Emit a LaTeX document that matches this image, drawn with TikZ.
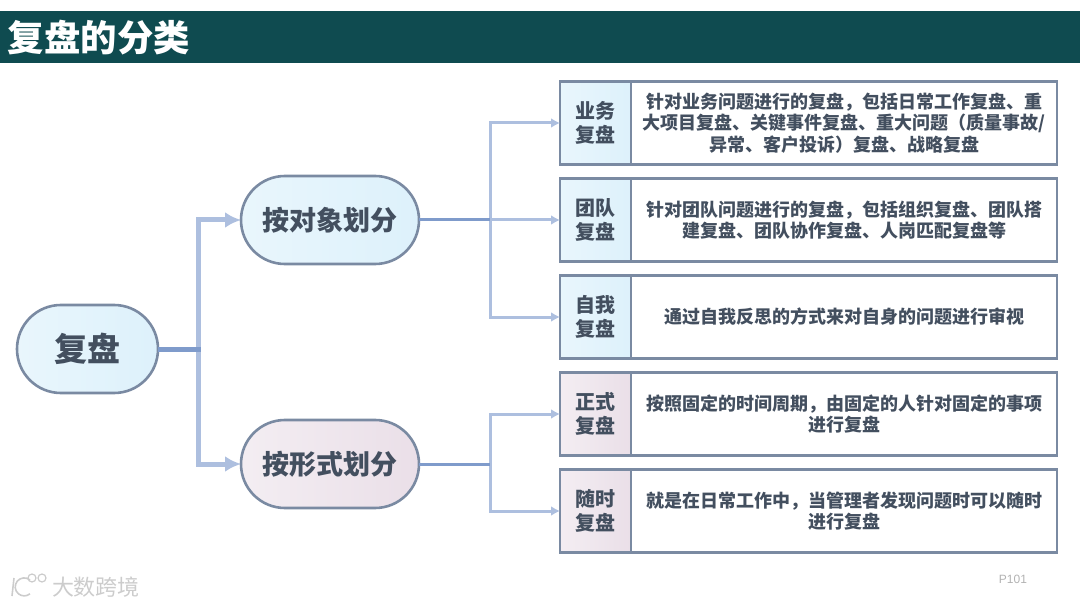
\documentclass[tikz,border=0pt]{standalone}
\usepackage{fontspec}
\setmainfont{Noto Sans CJK SC}
\newfontfamily\latinfont{Liberation Sans}
\usetikzlibrary{arrows.meta,positioning}

\definecolor{bandteal}{HTML}{0F4B50}
\definecolor{edgegrey}{HTML}{7A8AA2}
\definecolor{inkgrey}{HTML}{434F5F}
\definecolor{iceblue}{HTML}{DDF1FB}
\definecolor{palerose}{HTML}{EADFE8}
\definecolor{trunkblue}{HTML}{7F9BCB}
\definecolor{branchblue}{HTML}{ADBFDF}

\begin{document}
\begin{tikzpicture}[
    x=1pt, y=-1pt,
    every node/.style={text=inkgrey, outer sep=0pt},
    pill/.style={
      draw=edgegrey, line width=2.6pt,
      rounded corners=43.9pt, align=center,
      minimum height=88pt,
      font=\fontsize{33}{38}\selectfont\bfseries
    },
    bluefill/.style={left color=iceblue!65, right color=iceblue},
    rosefill/.style={left color=palerose!55, right color=palerose},
    tag/.style={
      draw=edgegrey, line width=2.6pt,
      minimum width=71pt, minimum height=83.5pt, align=center, inner sep=0pt,
      font=\fontsize{20}{24}\selectfont\bfseries
    },
    desc/.style={
      draw=edgegrey, line width=2.6pt,
      minimum width=426pt, minimum height=83.5pt, align=center, inner sep=0pt,
      font=\fontsize{18}{21.5}\selectfont\bfseries
    },
    trunk/.style={line width=5pt, trunkblue},
    trunkthin/.style={line width=3pt, trunkblue},
    bigbranch/.style={-{Latex[length=16pt,width=16pt]}, line width=5pt, branchblue},
    branch/.style={-{Latex[length=9pt,width=10pt]}, line width=3pt, branchblue}
  ]

    \useasboundingbox (0,0) rectangle (1080,607);

    \fill[bandteal] (0,11) rectangle (1080,63);
    \node[text=white, font=\fontsize{36.4}{40}\selectfont\bfseries, anchor=west, inner sep=0pt] (title) at (8,38) {复盘的分类};

    \node[pill, bluefill, minimum width=141pt] (root) at (87.5,349) {复盘};
    \node[pill, bluefill, minimum width=178pt, font=\fontsize{27}{32}\selectfont\bfseries] (byobject) at (330,220) {按对象划分};
    \node[pill, rosefill, minimum width=178pt, font=\fontsize{27}{32}\selectfont\bfseries] (byform) at (330,464) {按形式划分};

    \node[tag, bluefill] (tagwork) at (595.5,123) {业务\\复盘};
    \node[tag, bluefill, below=13.5pt of tagwork] (tagteam) {团队\\复盘};
    \node[tag, bluefill, below=13.5pt of tagteam] (tagself) {自我\\复盘};
    \node[tag, rosefill, below=13.5pt of tagself] (tagformal) {正式\\复盘};
    \node[tag, rosefill, below=13.5pt of tagformal] (tagcasual) {随时\\复盘};

    \node[desc, right=0pt of tagwork] (descwork) {针对业务问题进行的复盘，包括日常工作复盘、重\\大项目复盘、关键事件复盘、重大问题（质量事故/\\异常、客户投诉）复盘、战略复盘};
    \node[desc, right=0pt of tagteam] (descteam) {针对团队问题进行的复盘，包括组织复盘、团队搭\\建复盘、团队协作复盘、人岗匹配复盘等};
    \node[desc, right=0pt of tagself] (descself) {通过自我反思的方式来对自身的问题进行审视};
    \node[desc, right=0pt of tagformal] (descformal) {按照固定的时间周期，由固定的人针对固定的事项\\进行复盘};
    \node[desc, right=0pt of tagcasual] (desccasual) {就是在日常工作中，当管理者发现问题时可以随时\\进行复盘};

    \coordinate (rootfork) at (198,349);
    \coordinate (objectfork) at (490,220);
    \coordinate (formfork) at (490,464);

    \draw[bigbranch] (rootfork) |- (byobject.west);
    \draw[bigbranch] (rootfork) |- (byform.west);
    \draw[trunk] (root.east) -- ([xshift=2.5pt]rootfork);

    \draw[branch] (objectfork) |- (tagwork.west);
    \draw[branch] (objectfork) -- (objectfork -| tagteam.west);
    \draw[branch] (objectfork) |- (tagself.west);
    \draw[trunkthin] (byobject.east) -- (objectfork);

    \draw[branch] (formfork) |- (tagformal.west);
    \draw[branch] (formfork) |- (tagcasual.west);
    \draw[trunkthin] (byform.east) -- (formfork);

    % watermark and page number
    \node[text=black!20, font=\fontsize{22}{24}\selectfont, anchor=west, inner sep=0pt] (mark) at (52,587) {大数跨境};
    \draw[black!20, line width=1.6pt] (14,578) -- (12,596);
    \draw[black!20, line width=1.6pt] (30,580) arc[start angle=50, end angle=310, radius=9pt];
    \draw[black!20, line width=1.2pt] (32,578) circle[radius=4pt] (42,578) circle[radius=4pt];
    \node[text=black!30, font=\latinfont\fontsize{12}{14}\selectfont, inner sep=0pt] (pageno) at (1013,579) {P101};

  \end{tikzpicture}
\end{document}
